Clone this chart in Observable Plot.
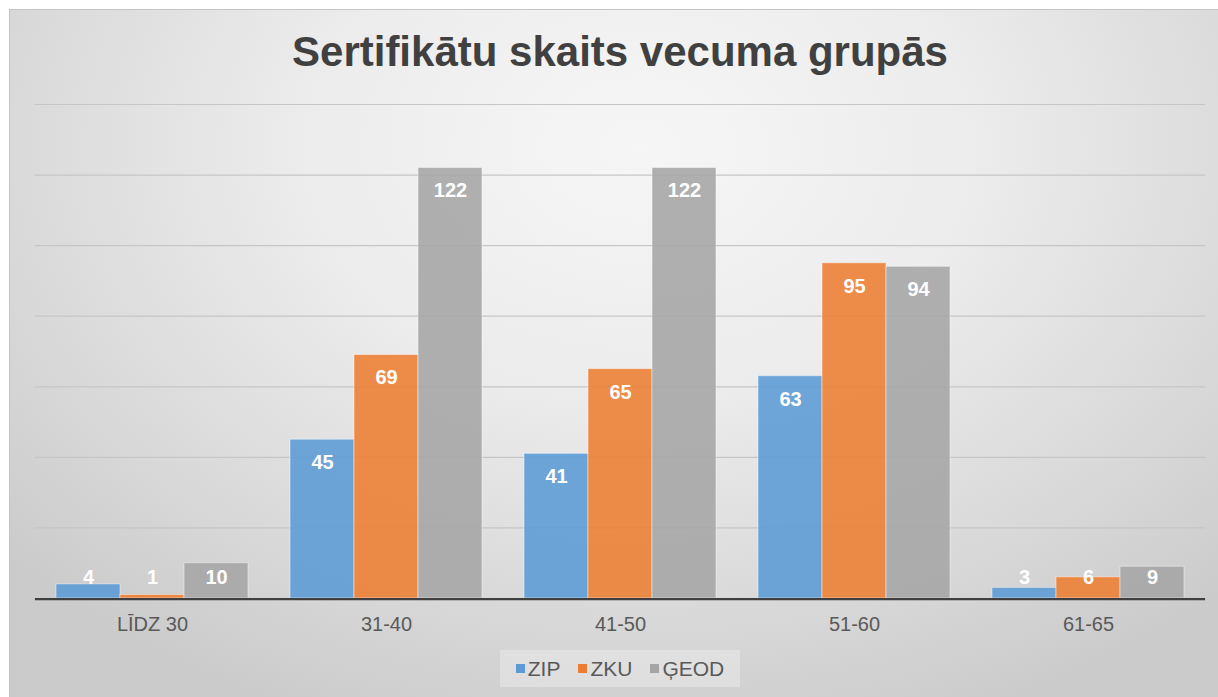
<!DOCTYPE html>
<html>
<head>
<meta charset="utf-8">
<script src="https://cdn.jsdelivr.net/npm/d3@7"></script>
<script src="https://cdn.jsdelivr.net/npm/@observablehq/plot@0.6"></script>
<style>
  html, body { margin: 0; padding: 0; background: #ffffff; width: 1218px; height: 697px; overflow: hidden; }
  #frame {
    position: absolute; left: 9px; top: 9px; width: 1209px; height: 688px;
    box-sizing: border-box;
    border-top: 1px solid #c4c4c4; border-left: 1px solid #c4c4c4;
    background: radial-gradient(ellipse 70% 90% at 52% 20%, #f6f6f6 0%, #ececec 40%, #d9d9d9 75%, #cbcbcb 100%);
  }
  #title {
    position: absolute; left: 0; width: 1240px; top: 31px; text-align: center;
    font-family: "Liberation Sans", Arial, sans-serif; font-weight: bold; font-size: 42px;
    line-height: 42px; color: #404040; white-space: nowrap;
  }
  #chart { position: absolute; left: 0; top: 80px; }
  #legend {
    position: absolute; top: 650px; left: 500px; width: 240px; height: 37px;
    display: flex; align-items: center; justify-content: center; gap: 18px;
    background: rgba(255,255,255,0.28);
    font-family: "Liberation Sans", Arial, sans-serif; font-size: 21px; color: #595959;
  }
  .item { display: flex; align-items: center; gap: 3px; }
  .sw { width: 9px; height: 9px; display: inline-block; }
</style>
</head>
<body>
<div id="frame"></div>
<div id="title">Sertifikātu skaits vecuma grupās</div>
<div id="chart"></div>
<div id="legend"></div>
<script>
const categories = ["LĪDZ 30", "31-40", "41-50", "51-60", "61-65"];
const series = ["ZIP", "ZKU", "ĢEOD"];
const zip = [4, 45, 41, 63, 3];
const zku = [1, 69, 65, 95, 6];
const geod = [10, 122, 122, 94, 9];
const yTicks = [0, 20, 40, 60, 80, 100, 120, 140];
const colors = ["#5b9bd5", "#ed7d31", "#a5a5a5"];

const values = [zip, zku, geod];
const data = [];
categories.forEach((c, i) => {
  series.forEach((s, j) => data.push({category: c, series: s, value: values[j][i]}));
});

const chart = Plot.plot({
  width: 1218,
  height: 568,
  marginLeft: 35,
  marginRight: 13,
  marginTop: 24,
  marginBottom: 50,
  style: {background: "transparent", fontFamily: "Liberation Sans, Arial, sans-serif", fontSize: "20px", color: "#595959"},
  fx: {domain: categories, paddingInner: 0.18, paddingOuter: 0.09, axis: "bottom", tickSize: 0, tickPadding: 18, label: null},
  x: {domain: series, padding: 0, axis: null},
  y: {domain: [0, 140], axis: null},
  color: {domain: series, range: colors},
  marks: [
    Plot.ruleY(yTicks.slice(1), {stroke: "#c6c6c6", strokeWidth: 1.2, insetLeft: -21.1, insetRight: -21.1}),
    Plot.barY(data, {fx: "category", x: "series", y: "value", fill: "series", fillOpacity: 0.88, stroke: "#ffffff", strokeOpacity: 0.45, strokeWidth: 1}),
    Plot.ruleY([0], {stroke: "#3f3f3f", strokeWidth: 2.2, insetLeft: -21.1, insetRight: -21.1, dy: 0.6}),
    Plot.text(data, {fx: "category", x: "series", y: d => Math.max(d.value, 12.5), dy: 23, text: d => String(d.value), fill: "white", fontWeight: "bold", fontSize: 20})
  ]
});
document.getElementById("chart").appendChild(chart);

const legend = document.getElementById("legend");
series.forEach((s, i) => {
  const item = document.createElement("span");
  item.className = "item";
  const sw = document.createElement("span");
  sw.className = "sw";
  sw.style.background = colors[i];
  const t = document.createElement("span");
  t.textContent = s;
  item.appendChild(sw);
  item.appendChild(t);
  legend.appendChild(item);
});
</script>
</body>
</html>
